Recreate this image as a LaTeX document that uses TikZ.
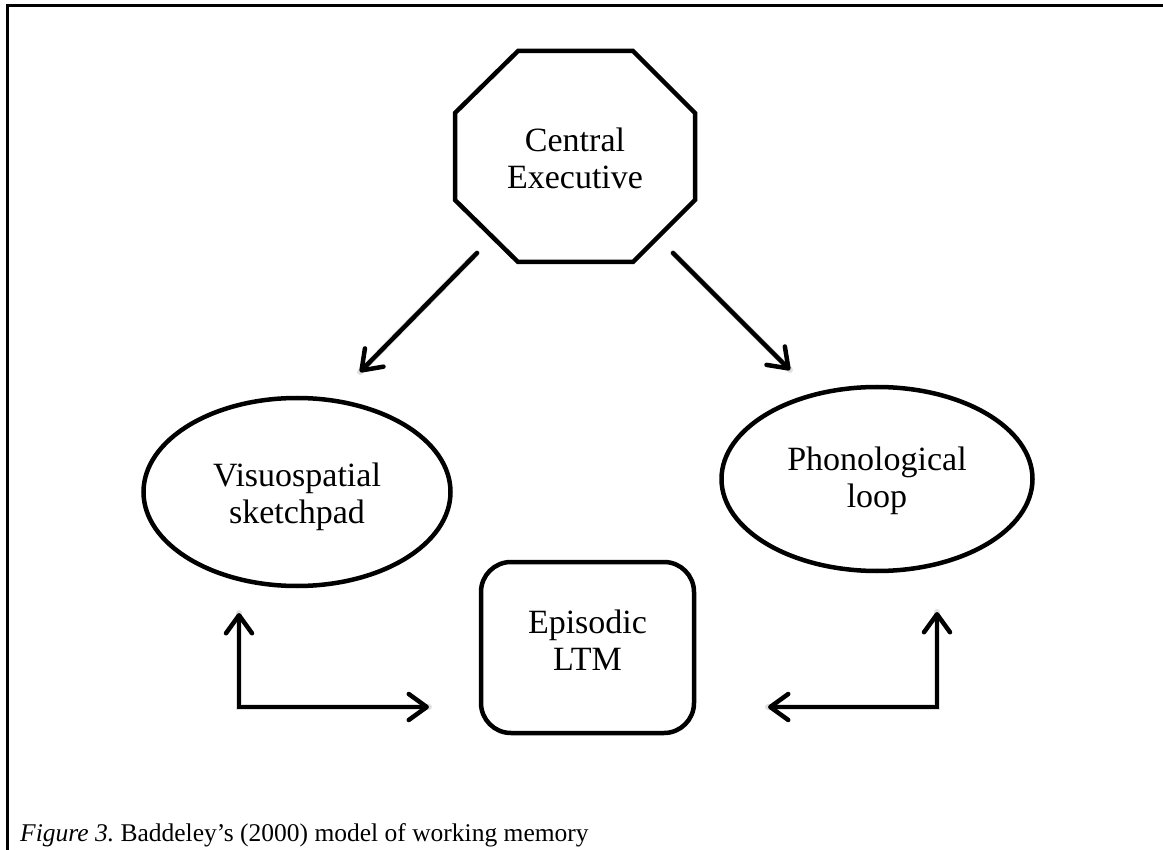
\documentclass[tikz,border=0pt]{standalone}
\usepackage{fontspec}
\setmainfont{Liberation Serif}
\usetikzlibrary{arrows.meta,shapes.geometric}
\frenchspacing
\begin{document}
\begin{tikzpicture}[x=1pt,y=-1pt,
  shapeline/.style={line width=4.5pt, line join=miter},
  lbl/.style={align=center, font=\fontsize{34}{37}\selectfont, inner sep=0pt},
  arr/.style={line width=4.5pt, line cap=round,
    -{Straight Barb[length=18pt,width=26pt,round,line width=4.5pt]}},
  dblarr/.style={line width=4.5pt, line cap=round,
    {Straight Barb[length=18pt,width=26pt,round,line width=4.5pt]}-{Straight Barb[length=18pt,width=26pt,round,line width=4.5pt]}},
  shadowline/.style={line width=6pt, black, opacity=0.12, line cap=round},
]
\useasboundingbox (0,0) rectangle (1163,850);
% frame
\draw[line width=3pt] (7,850) -- (7,6) -- (1163,6);

% central executive octagon
\draw[shapeline] (455,113) -- (518,51) -- (633,51) -- (695,113) -- (695,200)
  -- (633,262) -- (518,262) -- (455,200) -- cycle;
\node[lbl] (ce) at (575,158) {Central\\Executive};

% ellipses
\node[draw, ellipse, shapeline, minimum width=307pt, minimum height=188pt, inner sep=0pt] (vs) at (297,492) {};
\node[lbl] (vst) at (297,497) {Visuospatial\\sketchpad};
\node[draw, ellipse, shapeline, minimum width=311pt, minimum height=184pt, inner sep=0pt] (pl) at (877,479) {};
\node[lbl] (plt) at (877,481) {Phonological\\loop};

% episodic LTM
\node[draw, shapeline, rounded corners=30pt, minimum width=213pt, minimum height=171pt, inner sep=0pt] (ep) at (587.5,647.5) {};
\node[lbl] (ept) at (587.5,640) {Episodic\\LTM};

% arrow end points
\coordinate (a1s) at (477,253);
\coordinate (a1e) at (360,372);
\coordinate (a2s) at (673,253);
\coordinate (a2e) at (790,370);
\coordinate (l1t) at (239,613);
\coordinate (l1c) at (239,707);
\coordinate (l1r) at (429,707);
\coordinate (r1t) at (937,612);
\coordinate (r1c) at (937,707);
\coordinate (r1l) at (768,707);

% faint shadows
\begin{scope}[shift={(2,4)}]
\draw[shadowline] (a1s) -- (a1e);
\draw[shadowline] (a2s) -- (a2e);
\draw[shadowline] (l1t) -- (l1c) -- (l1r);
\draw[shadowline] (r1t) -- (r1c) -- (r1l);
\end{scope}

% arrows
\draw[arr] (a1s) -- (a1e);
\draw[arr] (a2s) -- (a2e);
\draw[dblarr, line join=miter] (l1t) -- (l1c) -- (l1r);
\draw[dblarr, line join=miter] (r1t) -- (r1c) -- (r1l);

% caption
\node[anchor=base west, inner sep=0pt, font=\fontsize{25.5}{30}\selectfont] (cap) at (20,841)
  {\textit{Figure 3.} Baddeley’s (2000) model of working memory};
\end{tikzpicture}
\end{document}
